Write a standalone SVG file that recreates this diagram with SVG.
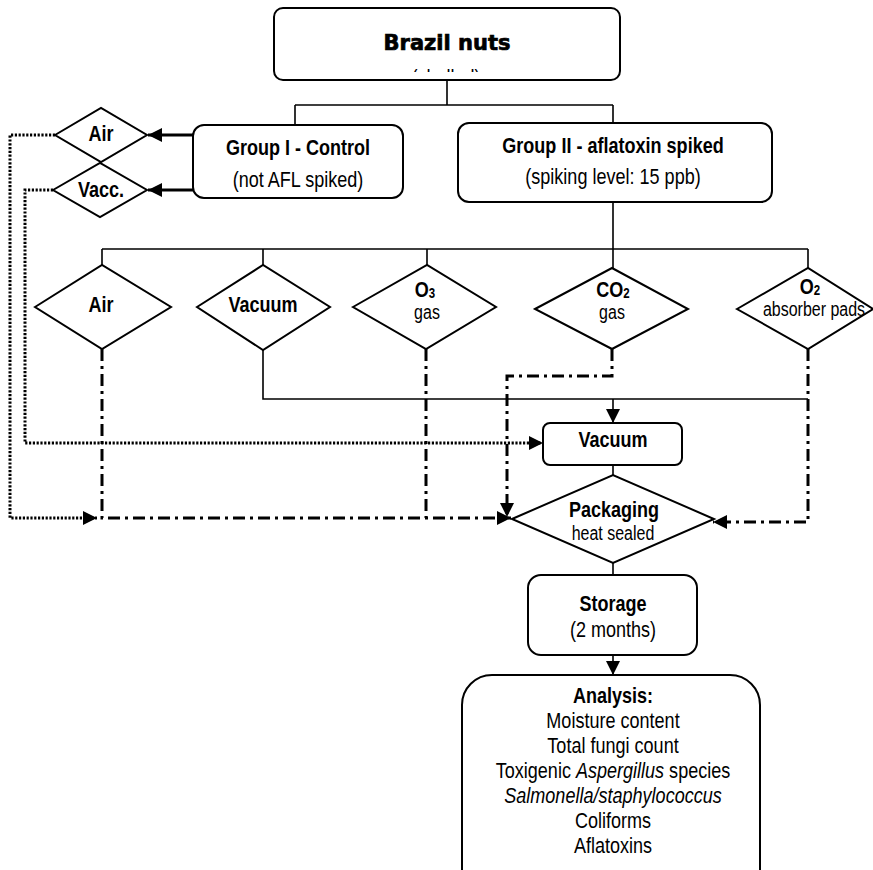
<svg xmlns="http://www.w3.org/2000/svg" width="873" height="870" viewBox="0 0 873 870">
<defs>
<style>
.box{fill:#fff;stroke:#000;stroke-width:2}
.dia{fill:#fff;stroke:#000;stroke-width:2}
text{font-family:"Liberation Sans",Arial,sans-serif;text-anchor:middle;fill:#000}
.b{font-weight:bold;font-size:22px}
.r{font-size:22px}
.s{font-size:19.5px}
.i{font-style:italic}
.sub{font-size:14px}
.title{font-family:"DejaVu Sans",sans-serif;font-weight:bold;font-size:21px;stroke:#000;stroke-width:0.7}
.solid{fill:none;stroke:#000;stroke-width:1.6}
.thick{fill:none;stroke:#000;stroke-width:3}
.dd{fill:none;stroke:#000;stroke-width:3;stroke-dasharray:12 5 3 5}
.dot{fill:none;stroke:#000;stroke-width:3;stroke-dasharray:2.2 1.6}
</style>
<marker id="ah" markerUnits="userSpaceOnUse" markerWidth="14" markerHeight="14" refX="14" refY="7" orient="auto"><path d="M0,0 L14,7 L0,14 z" fill="#000"/></marker>
<clipPath id="clipBN"><rect x="274" y="0" width="346" height="72"/></clipPath>
</defs>

<g id="connectors">
<path class="solid" d="M447,80 V105 M295,105 H613 M295,105 V125 M613,105 V123"/>
<path class="thick" d="M193,135 H148" marker-end="url(#ah)"/>
<path class="thick" d="M193,190 H148" marker-end="url(#ah)"/>
<path class="dot" d="M55,135 H10 V518 H97" marker-end="url(#ah)"/>
<path class="dot" d="M53,190 H25 V443 H543" marker-end="url(#ah)"/>
<path class="solid" d="M613,202 V249 M102,249 H808 M102,249 V265 M263,249 V265 M427,249 V265 M613,249 V268 M808,249 V268"/>
<path class="solid" d="M263,350 V399 H808"/>
<path class="solid" d="M613,399 V423" marker-end="url(#ah)"/>
<path class="dd" d="M102,349 V518 H511" marker-end="url(#ah)"/>
<path class="dd" d="M426,349 V518"/>
<path class="dd" d="M612,349 V376 H507 V517" marker-end="url(#ah)"/>
<path class="dd" d="M808,349 V522 H713" marker-end="url(#ah)"/>
<path class="solid" d="M613,465 V475 M613,563 V575"/>
<path class="solid" d="M613,655 V675" marker-end="url(#ah)"/>
</g>

<g id="brazil-nuts">
<rect class="box" x="274" y="8" width="346" height="72" rx="9"/>
<text class="title" x="447" y="50">Brazil nuts</text>
<g clip-path="url(#clipBN)"><text class="r" transform="translate(446 85) scale(0.82 1)">(shelled)</text></g>
</g>

<g id="group-1">
<rect class="box" x="193" y="125" width="210" height="73" rx="11"/>
<text class="b" transform="translate(298 155) scale(0.82 1)">Group I - Control</text>
<text class="r" transform="translate(298 187) scale(0.82 1)">(not AFL spiked)</text>
</g>

<g id="group-2">
<rect class="box" x="458" y="123" width="314" height="79" rx="11"/>
<text class="b" transform="translate(613 153) scale(0.82 1)">Group II - aflatoxin spiked</text>
<text class="r" transform="translate(613 184) scale(0.82 1)">(spiking level: 15 ppb)</text>
</g>

<g id="ctrl-air">
<polygon class="dia" points="55,135 101,108 147,135 101,162"/>
<text class="b" transform="translate(101 141) scale(0.82 1)">Air</text>
</g>
<g id="ctrl-vacc">
<polygon class="dia" points="53,190 100,163 147,190 100,217"/>
<text class="b" transform="translate(101 197) scale(0.82 1)">Vacc.</text>
</g>

<g id="air">
<polygon class="dia" points="35,307 102,265 171,307 102,349"/>
<text class="b" transform="translate(101 312) scale(0.82 1)">Air</text>
</g>
<g id="vacuum-opt">
<polygon class="dia" points="197,307 263,265 330,307 263,350"/>
<text class="b" transform="translate(263 312) scale(0.82 1)">Vacuum</text>
</g>
<g id="o3">
<polygon class="dia" points="353,307 427,265 496,307 426,349"/>
<text class="b" transform="translate(425 297) scale(0.82 1)">O<tspan class="sub" dy="1">3</tspan></text>
<text class="s" transform="translate(427 319) scale(0.82 1)">gas</text>
</g>
<g id="co2">
<polygon class="dia" points="535,309 612,268 688,309 612,349"/>
<text class="b" transform="translate(613 297) scale(0.82 1)">CO<tspan class="sub" dy="1">2</tspan></text>
<text class="s" transform="translate(612 319) scale(0.82 1)">gas</text>
</g>
<g id="o2">
<polygon class="dia" points="737,309 808,268 873,309 808,349"/>
<text class="b" transform="translate(810 294) scale(0.82 1)">O<tspan class="sub" dy="1">2</tspan></text>
<text class="s" transform="translate(814 316) scale(0.82 1)">absorber pads</text>
</g>

<g id="vacuum">
<rect class="box" x="543" y="423" width="139" height="42" rx="7"/>
<text class="b" transform="translate(613 447) scale(0.82 1)">Vacuum</text>
</g>

<g id="packaging">
<polygon class="dia" points="512,519 613,475 714,519 613,563"/>
<text class="b" transform="translate(614 517) scale(0.82 1)">Packaging</text>
<text class="s" transform="translate(613 540) scale(0.82 1)">heat sealed</text>
</g>

<g id="storage">
<rect class="box" x="528" y="575" width="169" height="80" rx="13"/>
<text class="b" transform="translate(613 611) scale(0.82 1)">Storage</text>
<text class="r" transform="translate(613 637) scale(0.82 1)">(2 months)</text>
</g>

<g id="analysis">
<rect class="box" x="462" y="675" width="298" height="230" rx="30"/>
<text class="b" transform="translate(613 703) scale(0.82 1)">Analysis:</text>
<text class="r" transform="translate(613 728) scale(0.82 1)">Moisture content</text>
<text class="r" transform="translate(613 753) scale(0.82 1)">Total fungi count</text>
<text class="r" transform="translate(613 778) scale(0.82 1)">Toxigenic <tspan class="i">Aspergillus</tspan> species</text>
<text class="r i" transform="translate(613 803) scale(0.82 1)">Salmonella/staphylococcus</text>
<text class="r" transform="translate(613 828) scale(0.82 1)">Coliforms</text>
<text class="r" transform="translate(613 853) scale(0.82 1)">Aflatoxins</text>
</g>
</svg>
